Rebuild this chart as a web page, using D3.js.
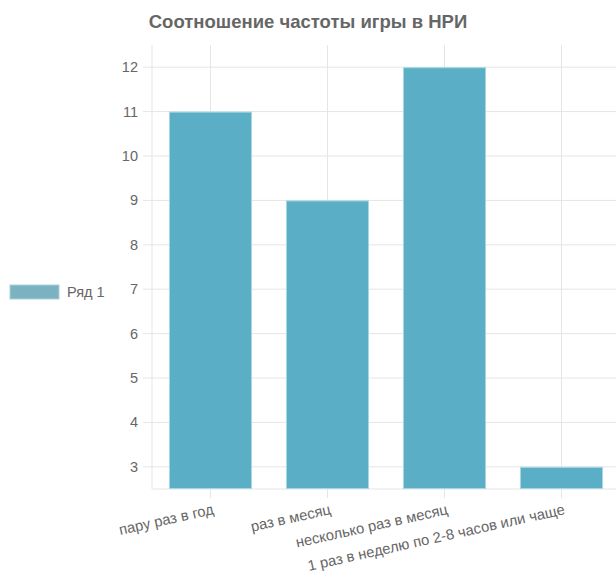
<!DOCTYPE html>
<html>
<head>
<meta charset="utf-8">
<script src="https://cdn.jsdelivr.net/npm/d3@7"></script>
<style>
  html, body { margin: 0; padding: 0; background: #fff; }
  svg { display: block; font-family: "Liberation Sans", Arial, Helvetica, sans-serif; }
</style>
</head>
<body>
<svg id="chart" width="616" height="577"></svg>
<script>
// Frequency of tabletop role-playing sessions
const title = "Соотношение частоты игры в НРИ";
const seriesName = "Ряд 1";
const categories = [
  "пару раз в год",
  "раз в месяц",
  "несколько раз в месяц",
  "1 раз в неделю по 2-8 часов или чаще"
];
const values = [11, 9, 12, 3];
const yTicks = [3, 4, 5, 6, 7, 8, 9, 10, 11, 12];

const svg = d3.select("#chart");
const plot = { left: 152, top: 45, bottom: 489, step: 117 };

const x = d3.scaleBand()
  .domain(categories)
  .range([plot.left, plot.left + plot.step * categories.length])
  .paddingInner(0.29)
  .paddingOuter(0.145);

const y = d3.scaleLinear().domain([2.5, 12.5]).range([plot.bottom, plot.top]);

const gridColor = "#e5e5e5";
const textColor = "#666";
const fontSize = 14.5;

// horizontal grid lines with short tick stubs on the left
svg.append("g").selectAll("line").data(yTicks).join("line")
  .attr("x1", plot.left - 9).attr("x2", 616)
  .attr("y1", d => y(d)).attr("y2", d => y(d))
  .attr("stroke", gridColor).attr("stroke-width", 1);

// vertical grid lines at category centres, extending below the axis as ticks
svg.append("g").selectAll("line").data(categories).join("line")
  .attr("x1", d => x(d) + x.bandwidth() / 2).attr("x2", d => x(d) + x.bandwidth() / 2)
  .attr("y1", plot.top).attr("y2", plot.bottom + 9)
  .attr("stroke", gridColor).attr("stroke-width", 1);

// axis lines
svg.append("line")
  .attr("x1", plot.left).attr("x2", plot.left)
  .attr("y1", plot.top).attr("y2", plot.bottom)
  .attr("stroke", gridColor).attr("stroke-width", 1);
svg.append("line")
  .attr("x1", plot.left).attr("x2", 616)
  .attr("y1", plot.bottom).attr("y2", plot.bottom)
  .attr("stroke", gridColor).attr("stroke-width", 1);

// y tick labels
svg.append("g").selectAll("text").data(yTicks).join("text")
  .attr("x", plot.left - 14)
  .attr("y", d => y(d))
  .attr("dy", "0.35em")
  .attr("text-anchor", "end")
  .attr("font-size", fontSize)
  .attr("fill", textColor)
  .text(d => d);

// bars
svg.append("g").selectAll("rect").data(values).join("rect")
  .attr("x", (d, i) => x(categories[i]) + 0.5)
  .attr("y", d => y(d) + 0.5)
  .attr("width", x.bandwidth() - 1)
  .attr("height", d => plot.bottom - y(d) - 1)
  .attr("fill", "#5aafc7")
  .attr("stroke", "#a9d6e3")
  .attr("stroke-width", 1);

// rotated category labels
svg.append("g").selectAll("text").data(categories).join("text")
  .attr("transform", d => `translate(${x(d) + x.bandwidth() / 2 + 4},${plot.bottom + 25}) rotate(-12.5)`)
  .attr("text-anchor", "end")
  .attr("font-size", 14.8)
  .attr("fill", textColor)
  .text(d => d);

// title
svg.append("text")
  .attr("x", 308).attr("y", 28)
  .attr("text-anchor", "middle")
  .attr("font-size", 18.5)
  .attr("font-weight", "bold")
  .attr("fill", textColor)
  .text(title);

// legend
const lg = svg.append("g").attr("transform", "translate(10,285)");
lg.append("rect").attr("width", 49).attr("height", 14)
  .attr("fill", "#7ab2c0").attr("stroke", "#a9d2dc").attr("stroke-width", 1);
lg.append("text").attr("x", 57).attr("y", 7).attr("dy", "0.35em")
  .attr("font-size", fontSize).attr("fill", textColor).text(seriesName);
</script>
</body>
</html>
